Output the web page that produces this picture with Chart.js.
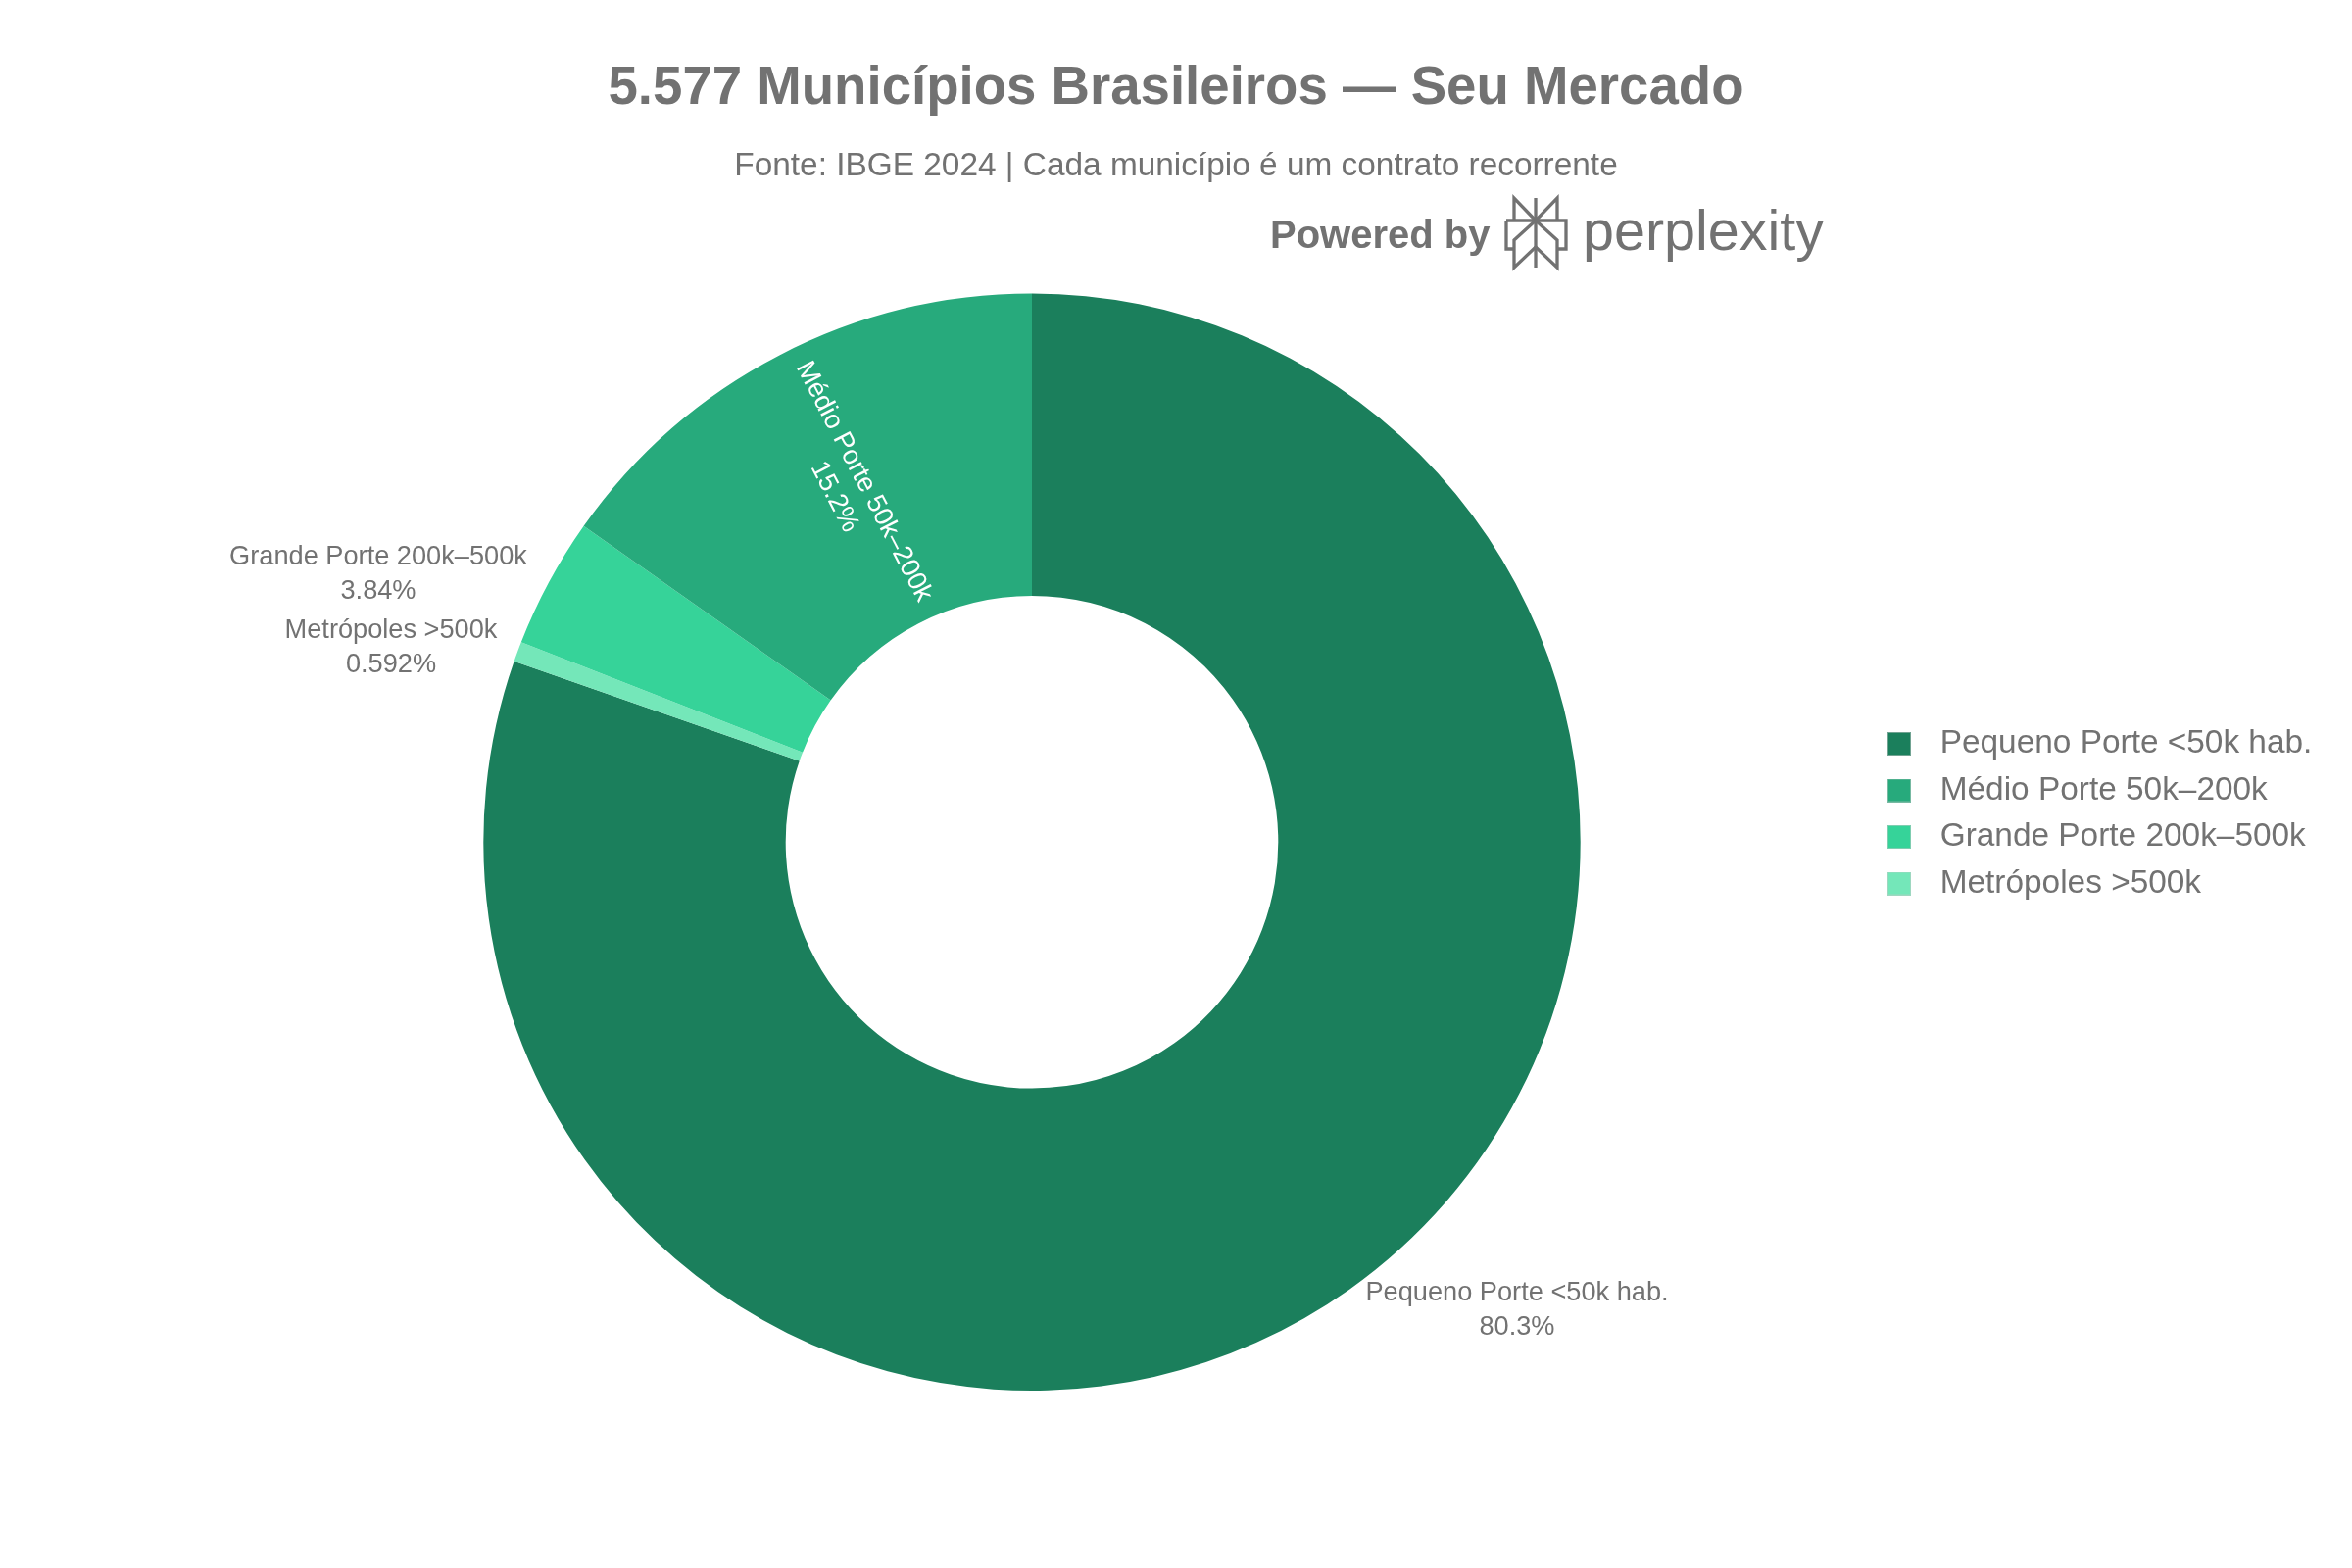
<!DOCTYPE html>
<html>
<head>
<meta charset="utf-8">
<style>
  html, body { margin: 0; padding: 0; background: #fff; }
  #wrap { width: 2400px; height: 1600px; }
</style>
<script src="https://cdn.jsdelivr.net/npm/chart.js@4"></script>
</head>
<body>
<div id="wrap"><canvas id="chart"></canvas></div>
<script>
const categories = ['Pequeno Porte <50k hab.', 'Metrópoles >500k', 'Grande Porte 200k–500k', 'Médio Porte 50k–200k'];
const values = [4481, 33, 214, 849];
const colors = ['#1B7F5C', '#74E7B9', '#36D399', '#27AA7C'];
const legendOrder = [0, 3, 2, 1];
const titleText = '5.577 Municípios Brasileiros — Seu Mercado';
const subtitleText = 'Fonte: IBGE 2024 | Cada município é um contrato recorrente';

const FONT = '"Liberation Sans", Arial, sans-serif';
const GRAY = '#727272';
const total = values.reduce((a, b) => a + b, 0);
const pct = (v) => (v / total * 100).toPrecision(3) + '%';

// legend swatch with room on its right, the library leaves too small a gap
function swatch(color) {
  const c = document.createElement('canvas');
  c.width = 37;
  c.height = 24;
  const g = c.getContext('2d');
  g.fillStyle = color;
  g.fillRect(0, 0, 24, 24);
  g.strokeStyle = 'rgba(200,200,200,0.5)';
  g.strokeRect(0.5, 0.5, 23, 23);
  return c;
}

const placeBoxes = {
  id: 'placeBoxes',
  afterLayout(chart) {
    chart.boxes.forEach((box) => {
      if (box.position === 'top') {
        box.left = 0;
        box.right = chart.width;
      }
    });
    const legend = chart.legend;
    const dx = 1911.9 - legend.left;
    const dy = 728.2 - legend.top;
    legend.left += dx;
    legend.right = chart.width;
    legend.top += dy;
    // the legend starts a new column when a row passes bottom, so leave room
    legend.bottom = legend.top + 400;
    legend.legendHitBoxes.forEach((h) => {
      h.left += dx;
      h.top += dy;
    });
  },
};

// where each outside label sits on the page
const outsideLabels = {
  0: { x: 1548, y: 1337 },
  1: { x: 399, y: 661 },
  2: { x: 386, y: 586 },
};

const sliceLabels = {
  id: 'sliceLabels',
  afterDatasetsDraw(chart) {
    const { ctx } = chart;
    const arcs = chart.getDatasetMeta(0).data;
    ctx.save();
    ctx.textAlign = 'center';
    ctx.textBaseline = 'middle';
    ctx.font = '27.2px ' + FONT;
    ctx.fillStyle = GRAY;
    Object.keys(outsideLabels).forEach((i) => {
      const p = outsideLabels[i];
      ctx.fillText(categories[i], p.x, p.y - 17.5);
      ctx.fillText(pct(values[i]), p.x, p.y + 17.5);
    });
    // Médio Porte goes inside its slice, along the radius
    const arc = arcs[3];
    const c = arc.getCenterPoint();
    const mid = (arc.startAngle + arc.endAngle) / 2;
    ctx.translate(c.x, c.y);
    ctx.rotate(mid + Math.PI);
    ctx.fillStyle = '#fff';
    ctx.fillText(categories[3], 0, -17);
    ctx.fillText(pct(values[3]), 0, 17);
    ctx.restore();
  },
};

const logoLines = [
  [[25, 30], [25, 7], [47, 30], [69, 7], [69, 30]],
  [[47, 7], [47, 78]],
  [[17, 30], [78, 30], [78, 59], [69, 59]],
  [[17, 30], [17, 59], [25, 59]],
  [[47, 30], [25, 50], [25, 78], [47, 57], [69, 78], [69, 50], [47, 30]],
];

const poweredBy = {
  id: 'poweredBy',
  afterDraw(chart) {
    const { ctx } = chart;
    ctx.save();
    ctx.fillStyle = GRAY;
    ctx.strokeStyle = GRAY;
    ctx.textBaseline = 'alphabetic';
    ctx.textAlign = 'left';
    ctx.font = 'bold 40px ' + FONT;
    ctx.fillText('Powered by', 1296, 253);
    ctx.font = '57.5px ' + FONT;
    ctx.fillText('perplexity', 1615, 255);
    ctx.translate(1520, 195);
    ctx.lineWidth = 3.3;
    logoLines.forEach((pts) => {
      ctx.beginPath();
      pts.forEach((p, i) => (i ? ctx.lineTo(p[0], p[1]) : ctx.moveTo(p[0], p[1])));
      ctx.stroke();
    });
    ctx.restore();
  },
};

Chart.defaults.font.family = FONT;
Chart.defaults.color = GRAY;

new Chart(document.getElementById('chart'), {
  type: 'doughnut',
  data: {
    labels: categories,
    datasets: [{
      data: values,
      backgroundColor: colors,
      borderWidth: 0,
    }],
  },
  plugins: [placeBoxes, sliceLabels, poweredBy],
  options: {
    responsive: true,
    maintainAspectRatio: false,
    devicePixelRatio: 1,
    animation: false,
    cutout: '44.9%',
    layout: { padding: { left: 493, right: 787, bottom: 181, top: 0 } },
    plugins: {
      tooltip: { enabled: false },
      title: {
        display: true,
        text: titleText,
        color: GRAY,
        font: { size: 54.6, weight: 'bold', family: FONT },
        padding: { top: 58, bottom: 0 },
      },
      subtitle: {
        display: true,
        text: subtitleText,
        color: GRAY,
        font: { size: 33.4, weight: 'normal', family: FONT },
        padding: { top: 26, bottom: 110 },
      },
      legend: {
        position: 'chartArea',
        align: 'start',
        labels: {
          color: GRAY,
          font: { size: 33.4, family: FONT },
          padding: 14.1,
          usePointStyle: true,
          pointStyleWidth: 37,
          boxHeight: 24,
          generateLabels() {
            return legendOrder.map((i) => ({
              text: categories[i],
              fillStyle: colors[i],
              strokeStyle: colors[i],
              lineWidth: 0,
              fontColor: GRAY,
              pointStyle: swatch(colors[i]),
              index: i,
            }));
          },
        },
      },
    },
  },
});
</script>
</body>
</html>
